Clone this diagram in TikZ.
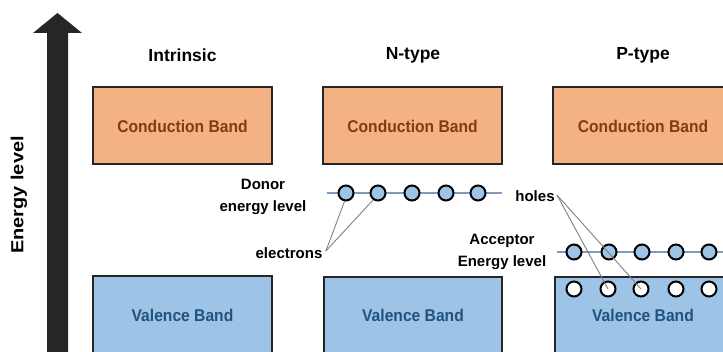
\documentclass[tikz,border=0pt]{standalone}
\usepackage{fontspec}
\setmainfont{Liberation Sans}
\definecolor{cbfill}{HTML}{F4B183}
\definecolor{cbtext}{HTML}{843C0C}
\definecolor{vbfill}{HTML}{9DC3E6}
\definecolor{vbtext}{HTML}{22527E}
\definecolor{edge}{HTML}{262626}
\definecolor{lvl}{HTML}{7F9CC0}
\newcommand{\bandlabel}[1]{\scalebox{0.92}[1]{#1}}
\begin{document}
\begin{tikzpicture}[x=1pt,y=-1pt,
  band/.style={draw=edge,line width=2.6pt},
  cbtxt/.style={font=\fontsize{17}{20}\selectfont\bfseries,text=cbtext},
  vbtxt/.style={font=\fontsize{17}{20}\selectfont\bfseries,text=vbtext},
  title/.style={font=\fontsize{17.5}{20}\selectfont\bfseries},
  lbl/.style={font=\fontsize{15}{22}\selectfont\bfseries,align=center},
  electron/.style={circle,draw=black,line width=2pt,fill=vbfill,minimum size=15pt,inner sep=0pt},
  hole/.style={circle,draw=black,line width=2pt,fill=white,minimum size=15pt,inner sep=0pt},
  level/.style={draw=lvl,line width=1.5pt},
  pointer/.style={draw=gray,line width=0.9pt}]
\useasboundingbox (0,0) rectangle (723,352);
\clip (0,0) rectangle (723,352);
% energy arrow
\fill[edge] (47,360) -- (47,33) -- (33,33) -- (57.5,13) -- (82,33) -- (68,33) -- (68,360) -- cycle;
\node[rotate=90,font=\fontsize{19}{22}\selectfont\bfseries] (elevel) at (19,195) {\scalebox{1.05}[0.92]{Energy level}};
% titles
\node[title] (t1) at (182.5,55) {Intrinsic};
\node[title] (t2) at (413,55) {N-type};
\node[title] (t3) at (643,55) {P-type};
% conduction bands
\draw[band,fill=cbfill] (93,87) rectangle (272,164);
\draw[band,fill=cbfill] (323,87) rectangle (502,164);
\draw[band,fill=cbfill] (553,87) rectangle (740,164);
\node[cbtxt] (c1) at (182.5,126) {\bandlabel{Conduction Band}};
\node[cbtxt] (c2) at (412.5,126) {\bandlabel{Conduction Band}};
\node[cbtxt] (c3) at (643,126) {\bandlabel{Conduction Band}};
% valence bands
\draw[band,fill=vbfill] (93,276) rectangle (272,370);
\draw[band,fill=vbfill] (324,277) rectangle (502,370);
\draw[band,fill=vbfill] (555,277) rectangle (740,370);
\node[vbtxt] (v1) at (182.5,315) {\bandlabel{Valence Band}};
\node[vbtxt] (v2) at (413,315) {\bandlabel{Valence Band}};
\node[vbtxt] (v3) at (643,315) {\bandlabel{Valence Band}};
% donor level
\coordinate (dl0) at (327,193);
\coordinate (dl1) at (502,193);
\draw[level] (dl0) -- (dl1);
\foreach \i/\x in {1/346,2/378,3/412,4/446,5/478}
  \node[electron] (d\i) at (\x,193) {};
\node[lbl] (donor) at (263,196.5) {Donor\\energy level};
\node[lbl] (electrons) at (289,253) {electrons};
\draw[pointer] (electrons.east) ++(0,-2) coordinate (ep) -- (d1.-100);
\draw[pointer] (ep) -- (d2.-125);
% acceptor level
\coordinate (al0) at (557,252);
\coordinate (al1) at (740,252);
\draw[level] (al0) -- (al1);
\foreach \i/\x in {1/574,2/609,3/642,4/676,5/709}
  \node[electron] (a\i) at (\x,252) {};
\foreach \i/\x in {1/574,2/608,3/641,4/676,5/709}
  \node[hole] (h\i) at (\x,289) {};
\node[lbl] (acceptor) at (502,252) {Acceptor\\Energy level};
\node[lbl] (holes) at (535,196) {holes};
\coordinate (hp) at (557,195);
\draw[pointer] (hp) -- (h2.center);
\draw[pointer] (hp) -- (h3.center);
\end{tikzpicture}
\end{document}
